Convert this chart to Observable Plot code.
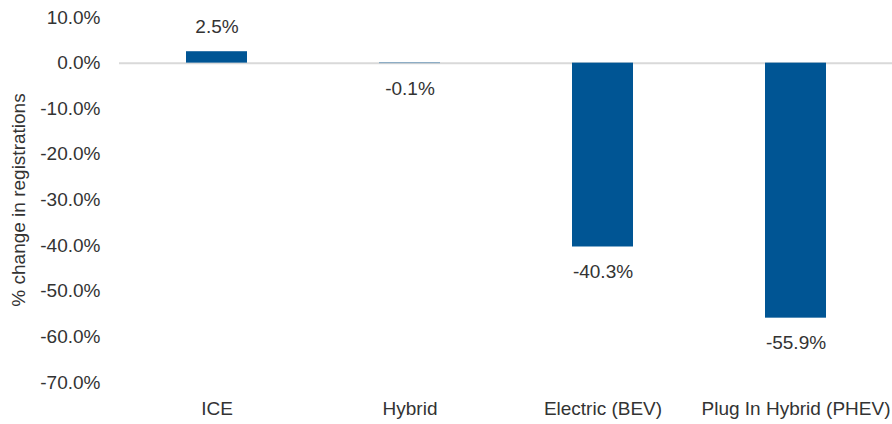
<!DOCTYPE html>
<html>
<head>
<meta charset="utf-8">
<script src="https://cdn.jsdelivr.net/npm/d3@7"></script>
<script src="https://cdn.jsdelivr.net/npm/@observablehq/plot@0.6"></script>
<style>
  html, body { margin: 0; padding: 0; background: #fff; }
</style>
</head>
<body>
<div id="chart"></div>
<script>
const categories = ["ICE", "Hybrid", "Electric (BEV)", "Plug In Hybrid (PHEV)"];
const values = [2.5, -0.1, -40.3, -55.9];
const yTicks = [10, 0, -10, -20, -30, -40, -50, -60, -70];
const yLabel = "% change in registrations";

const data = categories.map((c, i) => ({category: c, value: values[i]}));
const fmt = d => d.toFixed(1) + "%";

const chart = Plot.plot({
  width: 892,
  height: 424,
  marginLeft: 119,
  marginRight: 0,
  marginTop: 17,
  marginBottom: 42,
  style: {fontFamily: "'Liberation Sans', Arial, sans-serif", fontSize: "19px", color: "#333", background: "#fff"},
  x: {domain: categories, paddingInner: 0.684, paddingOuter: 0.342, label: null},
  y: {domain: [-70, 10], ticks: yTicks, tickFormat: fmt, label: yLabel},
  marks: [
    Plot.axisX({tickSize: 0, tickPadding: 19, label: null, fill: "#333"}),
    Plot.axisY({ticks: yTicks, tickFormat: fmt, tickSize: 0, tickPadding: 19, label: yLabel, labelAnchor: "center", labelArrow: false, labelOffset: 108, fill: "#333"}),
    Plot.ruleY([0], {stroke: "#d9d9d9", strokeWidth: 2}),
    Plot.barY(data, {x: "category", y: "value", fill: "#005594"}),
    Plot.text(data.filter(d => d.value >= 0), {x: "category", y: "value", text: d => fmt(d.value), dy: -25, fill: "#333", fontSize: 19}),
    Plot.text(data.filter(d => d.value < 0), {x: "category", y: "value", text: d => fmt(d.value), dy: 25, fill: "#333", fontSize: 19})
  ]
});
document.getElementById("chart").appendChild(chart);
</script>
</body>
</html>
